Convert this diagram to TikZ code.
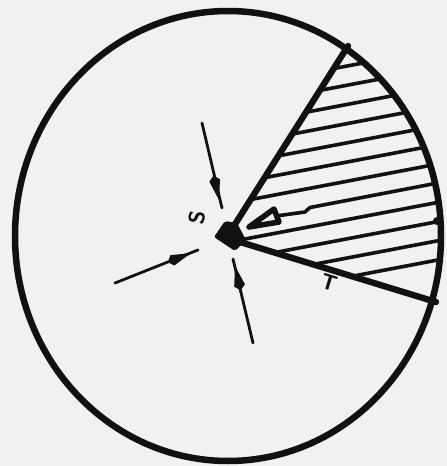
\documentclass[tikz,border=0pt]{standalone}
\usetikzlibrary{calc}
\definecolor{paper}{RGB}{241,241,239}
\definecolor{ink}{RGB}{17,17,17}
\begin{document}
\begin{tikzpicture}[x=1pt,y=-1pt,
  rim/.style={draw=ink,line width=6.5pt},
  wedgeline/.style={draw=ink,line width=6.3pt,line cap=round},
  hatchline/.style={draw=ink,line width=3.6pt},
  inarrow/.style={draw=ink,line width=2.8pt,line cap=round},
  lbl/.style={text=ink,font=\sffamily\bfseries\fontsize{22}{22}\selectfont,inner sep=0pt}]
\fill[paper] (0,0) rectangle (447,466);
\useasboundingbox (0,0) rectangle (447,466);
\coordinate (c) at (228,236);
\coordinate (U0) at (232,229);
\coordinate (U1) at (348,46);
\coordinate (L0) at (240,242);
\coordinate (L1) at (436,302);
% hatching
\begin{scope}
  \clip (c) ellipse [x radius=213, y radius=225];
  \clip (U0) -- (369.5,12) -- (460,12) -- (460,309.3) -- (L0) -- cycle;
  \foreach \k in {0,...,11} {
    \pgfmathsetmacro{\yy}{63+19.2*\k}
    \ifnum\k=7\else
      \draw[hatchline] (200,{\yy+30.97}) -- (460,{\yy-18.43});
    \fi
  }
\end{scope}
% zigzag arrow in the wedge
\coordinate (z0) at (435,183.5);
\coordinate (z1) at (310,207.5);
\coordinate (z2) at (305,212);
\coordinate (z3) at (276,216);
\coordinate (ztip) at (249,227);
\draw[hatchline,line join=round] (z0) -- (z1) -- (z2) -- (z3);
\draw[draw=ink,line width=5.5pt,line join=round,fill=paper] (ztip) -- (274,209) -- (279,222) -- cycle;
% wedge lines
\draw[wedgeline] (U0) -- (U1);
\draw[wedgeline] (L0) -- (L1);
% central blob
\fill[ink,rounded corners=2pt] (214,237) -- (225,221) -- (237,223) -- (246,240) -- (235,251) -- cycle;
% rim
\draw[rim] (c) ellipse [x radius=213, y radius=225];
\fill[ink] (437,221) circle (4);
% arrows toward the centre
\coordinate (a1) at (202,123); \coordinate (a1t) at (219,200); \coordinate (a1e) at (222,208);
\coordinate (a2) at (115,283); \coordinate (a2t) at (191,253); \coordinate (a2e) at (198,250);
\coordinate (a3) at (253,343); \coordinate (a3t) at (235,266); \coordinate (a3e) at (233,259);
\foreach \n in {1,2,3} {
  \draw[inarrow] (a\n) -- (a\n e);
  \coordinate (w\n) at ($(a\n t)!20pt!(a\n)$);
  \fill[ink] (a\n t) -- ($(w\n)!5.5pt!90:(a\n t)$) -- ($(a\n t)!25pt!(a\n)$) -- ($(w\n)!5.5pt!-90:(a\n t)$) -- cycle;
}
% labels
\node[lbl,rotate=80] (S) at (197,218) {S};
\node[lbl,rotate=-17] (T) at (329,283) {T};
\end{tikzpicture}
\end{document}
